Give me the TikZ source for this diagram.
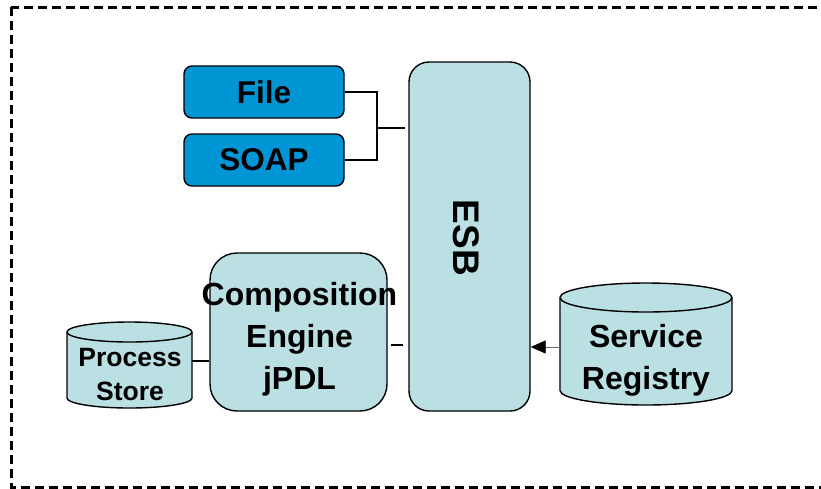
\documentclass[tikz,border=0pt]{standalone}
\usepackage{fontspec}
\setmainfont{Liberation Sans}
\usetikzlibrary{arrows.meta}
\definecolor{boxblue}{RGB}{0,150,214}
\definecolor{boxcyan}{RGB}{187,224,227}
\begin{document}
\begin{tikzpicture}[x=1pt,y=-1pt,
  bluebox/.style={draw=black, line width=1.4pt, fill=boxblue, rounded corners=8pt,
    minimum width=160pt, minimum height=52pt, inner sep=0pt,
    font=\fontsize{31.5}{36}\selectfont\bfseries},
  cyanbox/.style={draw=black, line width=1.4pt, fill=boxcyan, inner sep=0pt},
  bigtext/.style={align=center, inner sep=0pt, font=\fontsize{32}{42}\selectfont\bfseries},
  smalltext/.style={align=center, inner sep=0pt, font=\fontsize{26.5}{34}\selectfont\bfseries},
  cyl/.style={draw=black, line width=1.4pt, fill=boxcyan},
  ghost/.style={inner sep=0pt, draw=none},
  wire/.style={draw=black, line width=1.4pt},
  thinwire/.style={draw=black!60, line width=0.9pt}
]
\useasboundingbox (0,0) rectangle (821,488);
\draw[line width=3pt, dash pattern=on 9pt off 5pt] (11,7) rectangle (830,487);

% blue boxes
\node[bluebox] (file) at (264,92) {File};
\node[bluebox] (soap) at (264,160) {SOAP};

% ESB
\node[cyanbox, rounded corners=20pt, minimum width=121pt, minimum height=349pt] (esb) at (469.5,236.5) {};
\node[align=center, inner sep=0pt, font=\fontsize{37}{42}\selectfont\bfseries, rotate=-90] (esblabel) at (466,238) {ESB};

% Composition engine
\node[cyanbox, rounded corners=27pt, minimum width=177pt, minimum height=158pt] (ce) at (298.5,332) {};
\node[bigtext] (celabel) at (299.5,339) {Composition\\Engine\\jPDL};

% Process store cylinder
\filldraw[cyl] (67,332) -- (67,398)
  arc[start angle=180, end angle=360, x radius=62.5pt, y radius=10pt]
  -- (192,332)
  arc[start angle=0, end angle=180, x radius=62.5pt, y radius=10pt] -- cycle;
\draw[cyl, fill=none] (67,332) arc[start angle=180, end angle=360, x radius=62.5pt, y radius=10pt];
\node[ghost, minimum width=125pt, minimum height=86pt] (ps) at (129.5,365) {};
\node[smalltext] (pslabel) at (130,375) {Process\\Store};

% Service registry cylinder
\filldraw[cyl] (560,297.5) -- (560,390.5)
  arc[start angle=180, end angle=360, x radius=86pt, y radius=14.5pt]
  -- (732,297.5)
  arc[start angle=0, end angle=180, x radius=86pt, y radius=14.5pt] -- cycle;
\draw[cyl, fill=none] (560,297.5) arc[start angle=180, end angle=360, x radius=86pt, y radius=14.5pt];
\node[ghost, minimum width=172pt, minimum height=122pt] (sr) at (646,344) {};
\node[bigtext] (srlabel) at (646,360) {Service\\Registry};

% connectors
\coordinate (jn) at (377,128);
\draw[wire] (file.east) -| (jn |- soap.east) -- (soap.east);
\draw[wire] (jn) -- ([xshift=-3pt]esb.west |- jn);
\coordinate (ceport) at (0,345);
\draw[wire, shorten <=3pt, shorten >=5pt] (ce.east |- ceport) -- (esb.west |- ceport);
\coordinate (psport) at (0,361);
\draw[wire] (ps.east |- psport) -- (ce.west |- psport);
\coordinate (srport) at (0,347);
\draw[thinwire, -{Triangle[length=15pt, width=13pt, color=black, fill=black]}] (sr.west |- srport) -- (esb.east |- srport);
\end{tikzpicture}
\end{document}
